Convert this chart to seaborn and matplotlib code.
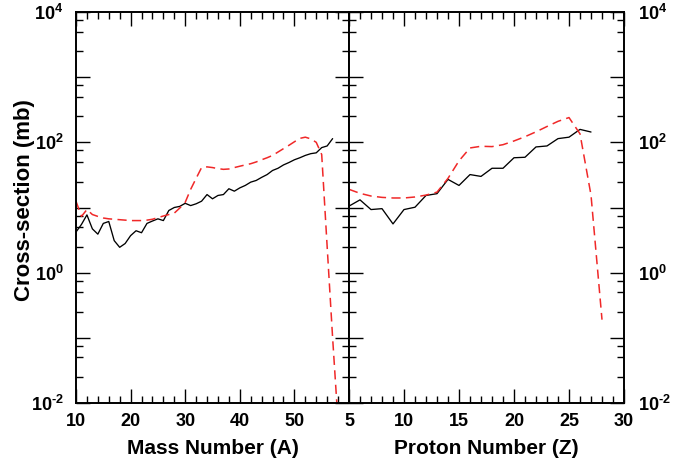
import matplotlib
matplotlib.use("Agg")
import matplotlib.pyplot as plt
import matplotlib.ticker as mticker
import numpy as np
import pandas as pd
import seaborn as sns

# ---- data ----
mass_A_exp = list(range(10, 58))
mass_xs_exp = [4.2, 5.5, 7.7, 4.7, 3.9, 5.7, 6.1, 3.1, 2.45, 2.8,
               3.7, 4.4, 4.1, 5.7, 6.2, 6.7, 6.3, 9.0, 10.0, 10.4,
               11.6, 10.7, 11.4, 12.5, 15.8, 13.6, 15.3, 15.8, 19.4, 17.8,
               20.0, 21.8, 24.5, 26.0, 29.0, 32.0, 37.0, 40.0, 45.0, 49.0,
               54.0, 58.0, 63.0, 67.0, 69.0, 83.0, 88.0, 114.0]

mass_A_calc = list(range(10, 59))
mass_xs_calc = [12.5, 7.3, 9.3, 7.8, 7.3, 6.9, 6.7, 6.6, 6.5, 6.4,
                6.3, 6.3, 6.3, 6.4, 6.6, 7.0, 7.4, 7.8, 8.2, 9.8,
                12.0, 19.0, 28.0, 41.0, 42.0, 41.0, 39.5, 38.5, 39.0, 41.0,
                43.0, 45.0, 47.0, 50.0, 54.0, 58.0, 63.0, 71.0, 80.0, 90.0,
                102.0, 115.0, 120.0, 113.0, 100.0, 65.0, 2.5, 0.1, 0.005]

proton_Z_exp = list(range(5, 28))
proton_xs_exp = [10.5, 13.1, 9.3, 9.6, 5.6, 9.3, 10.1, 15.3, 16.3, 27.0,
                 21.8, 32.0, 30.0, 40.0, 40.0, 58.0, 59.0, 85.0, 88.0, 114.0,
                 120.0, 158.0, 144.0]

proton_Z_calc = list(range(5, 29))
proton_xs_calc = [19.0, 16.5, 15.0, 14.3, 14.0, 14.0, 14.5, 15.5, 17.2, 28.0,
                  52.0, 82.0, 87.0, 86.0, 92.0, 105.0, 122.0, 145.0, 175.0, 210.0,
                  240.0, 135.0, 15.5, 0.19]

mass_ticks = [10, 20, 30, 40, 50]
proton_ticks = [5, 10, 15, 20, 25, 30]
y_ticks = [1e-2, 1e0, 1e2, 1e4]
y_tick_labels = [r"$\mathbf{10^{\text{-}2}}$", r"$\mathbf{10^{0}}$", r"$\mathbf{10^{2}}$", r"$\mathbf{10^{4}}$"]

# ---- style ----
sns.set_style("ticks")
plt.rcParams["font.family"] = ["Liberation Sans", "DejaVu Sans"]
plt.rcParams["font.weight"] = "bold"
plt.rcParams["mathtext.fontset"] = "custom"
plt.rcParams["mathtext.rm"] = "Liberation Sans:bold"
plt.rcParams["mathtext.bf"] = "Liberation Sans:bold"
plt.rcParams["mathtext.it"] = "Liberation Sans:bold"
plt.rcParams["text.color"] = "black"
plt.rcParams["axes.labelcolor"] = "black"
plt.rcParams["xtick.color"] = "black"
plt.rcParams["ytick.color"] = "black"
plt.rcParams["xtick.labelcolor"] = "black"
plt.rcParams["ytick.labelcolor"] = "black"

W, H = 689, 465
fig = plt.figure(figsize=(W / 100, H / 100), dpi=100)
ax1 = fig.add_axes([76 / W, 62 / H, 273 / W, 391 / H])
ax2 = fig.add_axes([349 / W, 62 / H, 275 / W, 391 / H])

df1e = pd.DataFrame({"x": mass_A_exp, "y": mass_xs_exp})
df1c = pd.DataFrame({"x": mass_A_calc, "y": mass_xs_calc})
df2e = pd.DataFrame({"x": proton_Z_exp, "y": proton_xs_exp})
df2c = pd.DataFrame({"x": proton_Z_calc, "y": proton_xs_calc})

red = "#f02828"
sns.lineplot(data=df1e, x="x", y="y", ax=ax1, color="black", lw=0.95)
sns.lineplot(data=df1c, x="x", y="y", ax=ax1, color=red, lw=1.1)
ax1.lines[-1].set_dashes((6, 3.5))
sns.lineplot(data=df2e, x="x", y="y", ax=ax2, color="black", lw=0.95)
sns.lineplot(data=df2c, x="x", y="y", ax=ax2, color=red, lw=1.1)
ax2.lines[-1].set_dashes((6, 3.5))

decades = [10.0 ** k for k in range(-2, 5)]
dec_labels = ["" if v not in y_ticks else y_tick_labels[y_ticks.index(v)] for v in decades]

for ax in (ax1, ax2):
    ax.set_yscale("log")
    ax.set_yticks(decades)
    ax.set_yticklabels(dec_labels)
    ax.yaxis.set_minor_locator(mticker.LogLocator(base=10, subs=(2.5, 5.0, 7.5), numticks=20))
    ax.yaxis.set_minor_formatter(mticker.NullFormatter())
    ax.set_ylim(1e-2, 1e4)
    ax.tick_params(which="both", direction="in", top=True, bottom=True, left=True, right=True,
                   width=1.0, color="black", labelcolor="black")
    ax.tick_params(which="major", length=10)
    ax.tick_params(which="minor", length=5)
    for s in ax.spines.values():
        s.set_linewidth(1.4)
        s.set_color("black")
    ax.set_ylabel("")
    ax.set_xlabel("")

ax1.set_xlim(10, 60)
ax1.set_xticks(mass_ticks)
ax1.set_xticklabels([str(t) for t in mass_ticks])
ax1.xaxis.set_minor_locator(mticker.MultipleLocator(2))

ax2.set_xlim(5, 30)
ax2.set_xticks(proton_ticks)
ax2.set_xticklabels([str(t) for t in proton_ticks])
ax2.xaxis.set_minor_locator(mticker.MultipleLocator(1))

for ax in (ax1, ax2):
    ax.tick_params(axis="x", which="major", labelsize=13, pad=7)
    ax.tick_params(axis="y", which="major", labelsize=13)
ax1.tick_params(axis="y", which="major", labelleft=True, labelright=False, pad=9)
ax2.tick_params(axis="y", which="major", labelleft=False, labelright=True, pad=10)

for ax in (ax1, ax2):
    for lab in ax.get_xticklabels() + ax.get_yticklabels():
        lab.set_fontweight("bold")
        lab.set_color("black")

ax1.set_xlabel("Mass Number (A)", fontsize=15, fontweight="bold", labelpad=7, color="black")
ax2.set_xlabel("Proton Number (Z)", fontsize=15, fontweight="bold", labelpad=7, color="black")
ax1.set_ylabel("Cross-section (mb)", fontsize=16, fontweight="bold", color="black")
ax1.yaxis.label.set_va("center")
ax1.yaxis.label.set_ha("center")
ax1.yaxis.set_label_coords(-0.187, 0.52)

fig.savefig("out.png", dpi=100)
